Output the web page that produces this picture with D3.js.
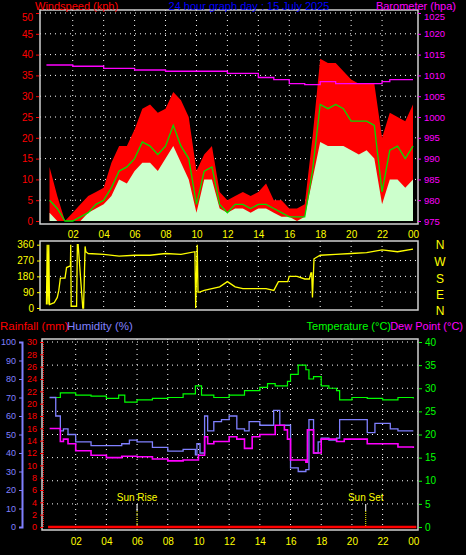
<!DOCTYPE html>
<html><head><meta charset="utf-8">
<script src="https://cdn.jsdelivr.net/npm/d3@7"></script>
<style>body{margin:0;background:#000}svg{display:block}text{font-family:"Liberation Sans",sans-serif}</style>
</head><body><svg id="c" width="466" height="555"></svg>
<script>
// ---- data ----
const hourTicks = [2,4,6,8,10,12,14,16,18,20,22,24];
const hourLabels = ["02","04","06","08","10","12","14","16","18","20","22","00"];
const windHours = d3.range(0.5,24.01,0.5);
const gust = [13,6,0,2,4,6,7,8,14,18,18,22,27,28,26,27,31,29,25,12,16,18,7,5,6,7,6,7,9,5,5,3,3,4,20,39,38,38,36,34,33,33,33,20,26,25,24,28];
const meanWind = [5,3,0,0,1,2,4,5,8,12,13,15,19,18,16,18,23,18,15,4,12,13,4,2,4,4,3,4,4,3,2,1,1,1,12,28,27,28,27,24,24,24,23,7,17,18,15,18];
const speed = [2,0,0,0,0,2,3,4,6,10,9,12,14,14,12,15,18,14,10,2,10,10,3,2,3,3,2,3,3,2,1,1,0,1,10,19,18,18,18,17,16,17,15,4,10,10,8,10];
const baroHours = [0.3,2,4,6,8,10,12,14,15,16,17,18,19,20,22,22.5,24];
const baro = [1012.5,1012.2,1011.7,1011.3,1011,1011,1010.5,1009.5,1009,1008,1007.8,1008.5,1008,1008,1008.5,1009,1009];
const windSpeedTicks = [0,5,10,15,20,25,30,35,40,45,50];
const baroTicks = [975,980,985,990,995,1000,1005,1010,1015,1020,1025];
const dirHours = [0.3,0.35,0.4,0.45,0.5,0.8,1.0,1.1,1.2,1.5,1.6,1.85,1.87,1.9,2.25,2.3,2.35,2.65,2.7,2.8,2.85,3,4,5,6,7,8,9,9.9,9.95,10.05,10.1,10.2,10.5,11,11.5,12,12.5,13,14,14.5,15,15.3,15.7,15.9,16,16.5,17,17.3,17.4,17.45,17.5,17.6,18,19,20,21,22,23,24];
const dirVals = [20,360,20,360,20,30,60,100,170,170,230,240,360,10,10,360,360,0,0,350,320,310,305,295,300,300,310,305,320,0,360,90,90,100,110,120,150,120,110,110,110,100,150,150,150,180,180,165,165,200,200,60,280,300,305,310,315,330,320,335];
const dirTicks = [0,90,180,270,360];
const compass = ["N","W","S","E","N"];
const tHours = [0.3,1,2,3,4,4.8,5.2,6,7,8,9,9.8,10.2,11,12,13,14,14.5,15,15.8,16,16.5,17,17.2,17.5,18,18.5,19,19.2,20,21,22,23,24];
const temp = [28,29,28.5,28.3,27.8,28.5,27,27.5,27.8,28,28.8,30.5,28.5,28,28.5,29.5,30.2,31,30.5,31.5,33,35,34,32,32.5,30.5,30,29.5,27.5,28,27.8,27.5,28,27.8];
const humHours = [0.3,0.5,0.7,1,1.2,1.5,2,3,4,5,5.5,6,7,8,9,9.8,9.9,10.1,10.4,10.6,11,11.5,12,12.5,13,13.3,14,14.5,14.9,15.3,15.8,16,16.5,17,17.2,17.5,17.8,18,18.5,19,19.2,20,20.5,21,21.5,22,22.5,23,24];
const hum = [70,70,60,52,53,50,46,44,44,45,47,46,43,41,42,39,45,40,60,52,57,58,60,53,52,57,55,55,63,55,55,32,30,31,58,40,46,48,47,48,58,58,58,51,56,56,53,52,52];
const dewHours = [0.3,1,1.2,1.5,2,3,4,5,6,7,8,9,9.8,10,10.4,10.6,11,12,12.5,13,13.5,14,15,15.6,15.8,16,17,17.1,17.5,18,19,19.5,20,21,22,23,24];
const dew = [21.3,18.5,19,18,16.5,15.5,15,15.3,15.2,14.7,14.3,14.5,14.5,15.5,19.5,18,18.5,19.5,19,17,19.5,20,22,21,19,14.5,14,21,16,19,18.5,19,19,18,18,17.3,17.1];
const rainHours = [0.2,24.2];
const rain = [0,0];
const humTicks = d3.range(0,101,10);
const rainTicks = d3.range(0,31,2);
const tempTicks = d3.range(0,41,5);
const sunEvents = [{h:6,label:"Sun Rise"},{h:20.9,label:"Sun Set"}];

// ---- drawing ----
const svg = d3.select("#c");
const F = "Liberation Sans";
function txt(x,y,s,col,anchor,size){return svg.append("text").attr("x",x).attr("y",y).text(s).attr("fill",col).attr("font-size",size||11).attr("text-anchor",anchor||"start");}
function grid(x,y,xt,yt,l,r,t,b){
  const g=svg.append("g").attr("stroke","#fff").attr("stroke-dasharray","1,4").attr("stroke-width",1);
  xt.forEach(h=>g.append("line").attr("x1",x(h)).attr("x2",x(h)).attr("y1",t).attr("y2",b));
  yt.forEach(v=>g.append("line").attr("x1",l).attr("x2",r).attr("y1",y(v)).attr("y2",y(v)));
}
function frame(l,t,r,b){svg.append("rect").attr("x",l).attr("y",t).attr("width",r-l).attr("height",b-t).attr("fill","none").attr("stroke","#d0d0d0").attr("stroke-width",1.5);}
function axis(gen,tx,col){const g=svg.append("g").attr("transform",tx).call(gen);g.selectAll("path,line").attr("stroke",col);g.selectAll("text").attr("fill",col).attr("font-family",F).attr("font-size",10);return g;}

// top chart
const xT = d3.scaleLinear([0,24],[41.8,413]);
const yW = d3.scaleLinear([0,50],[221,13]);
const yB = d3.scaleLinear([975,1025],[221,13]);
grid(xT,yW,hourTicks.slice(0,-1),windSpeedTicks.slice(1),40,418,10,224);
svg.append("path").attr("d",d3.area().x((d,i)=>xT(windHours[i])).y0(yW(0)).y1(d=>yW(d))(gust)).attr("fill","#ff0000");
svg.append("path").attr("d",d3.area().x((d,i)=>xT(windHours[i])).y0(yW(0)).y1(d=>yW(d))(speed)).attr("fill","#ccffcc");
svg.append("path").attr("d",d3.line().x((d,i)=>xT(windHours[i])).y(d=>yW(d))(meanWind)).attr("fill","none").attr("stroke","#00e000").attr("stroke-width",1.3);
svg.append("path").attr("d",d3.line().curve(d3.curveStepAfter).x((d,i)=>xT(baroHours[i])).y(d=>yB(d))(baro)).attr("fill","none").attr("stroke","#ff00ff").attr("stroke-width",1.3);
frame(40,10,418,224);
const wa=axis(d3.axisLeft(yW).tickValues(windSpeedTicks).tickSize(3).tickFormat(d3.format("d")),"translate(39,0)","#ff0000");wa.select(".domain").remove();
wa.selectAll(".tick text").filter(d=>d===50).attr("dy","0.7em");
const ba=axis(d3.axisRight(yB).tickValues(baroTicks).tickSize(3).tickFormat(d3.format("d")),"translate(418,0)","#ff00ff");ba.select(".domain").remove();ba.selectAll("text").attr("font-size",9.5);
ba.selectAll(".tick text").filter(d=>d===1025).attr("dy","0.7em");
const xa=axis(d3.axisBottom(xT).tickValues(hourTicks).tickSize(0).tickFormat((d,i)=>hourLabels[i]),"translate(0,228)","#ffff00");xa.select(".domain").remove();
txt(35,10,"Windspeed (kph)","#ff0000","start",11);
txt(249,10,"24 hour graph day : 15 July 2025","#0000ff","middle",11);
txt(456,10,"Barometer (hpa)","#ff00ff","end",11);

// direction chart
const yD = d3.scaleLinear([0,360],[308,244.7]);
grid(xT,yD,hourTicks.slice(0,-1),dirTicks.slice(1,-1),40,418,241,310);
svg.append("path").attr("d",d3.line().x((d,i)=>xT(dirHours[i])).y(d=>yD(d))(dirVals)).attr("fill","none").attr("stroke","#ffff00").attr("stroke-width",1.3);
frame(40,241,418,310);
axis(d3.axisLeft(yD).tickValues(dirTicks).tickSize(3),"translate(40,0)","#ffff00").select(".domain").remove();
[249,266,283,299,315].forEach((y,i)=>txt(440,y,compass[i],"#ffff00","middle",12));

// bottom chart
const xB = d3.scaleLinear([0,24],[45,413.3]);
const yH = d3.scaleLinear([0,100],[527,342]);
const yR = d3.scaleLinear([0,30],[527,342]);
const yTm = d3.scaleLinear([0,40],[527,342]);
grid(xB,yTm,hourTicks.slice(0,-1),tempTicks.slice(1),42,418,339,530);
sunEvents.forEach(e=>{
  svg.append("line").attr("x1",xB(e.h)).attr("x2",xB(e.h)).attr("y1",504).attr("y2",511).attr("stroke","#fff").attr("stroke-width",1);
  svg.append("line").attr("x1",xB(e.h)).attr("x2",xB(e.h)).attr("y1",511).attr("y2",527).attr("stroke","#ffff00").attr("stroke-dasharray","1,1");
  txt(xB(e.h),501,e.label,"#ffff00","middle",10);
});
svg.append("path").attr("d",d3.line().curve(d3.curveStepAfter).x((d,i)=>xB(tHours[i])).y(d=>yTm(d))(temp)).attr("fill","none").attr("stroke","#00ff00").attr("stroke-width",1.2);
svg.append("path").attr("d",d3.line().curve(d3.curveStepAfter).x((d,i)=>xB(humHours[i])).y(d=>yH(d))(hum)).attr("fill","none").attr("stroke","#8080ff").attr("stroke-width",1.3);
svg.append("path").attr("d",d3.line().curve(d3.curveStepAfter).x((d,i)=>xB(dewHours[i])).y(d=>yTm(d))(dew)).attr("fill","none").attr("stroke","#ff00ff").attr("stroke-width",1.6);
svg.append("path").attr("d",d3.line().x((d,i)=>xB(rainHours[i])).y(d=>yR(d))(rain)).attr("fill","none").attr("stroke","#ff0000").attr("stroke-width",2.5);
frame(42,339,418,530);
const ha=axis(d3.axisLeft(yH).tickValues(humTicks).tickSize(3),"translate(22,0)","#8080ff");ha.select(".domain").attr("stroke-width",2);ha.selectAll("text").attr("font-size",9);
const ra=axis(d3.axisLeft(yR).tickValues(rainTicks).tickSize(3),"translate(43,0)","#ff0000");ra.select(".domain").attr("stroke-dasharray","1,1");ra.selectAll("text").attr("font-size",9);
axis(d3.axisRight(yTm).tickValues(tempTicks).tickSize(3),"translate(419,0)","#00ff00").select(".domain").remove();
const xa3=axis(d3.axisBottom(xB).tickValues(hourTicks).tickSize(0).tickFormat((d,i)=>hourLabels[i]),"translate(0,535)","#ffff00");xa3.select(".domain").remove();
txt(0,330,"Rainfall (mm)","#ff0000","start",11.5);
txt(67,330,"Humidity (%)","#8080ff","start",11.5);
txt(391,330,"Temperature (°C)","#00ff00","end",11);
txt(463,330,"Dew Point (°C)","#ff00ff","end",11);
</script></body></html>
